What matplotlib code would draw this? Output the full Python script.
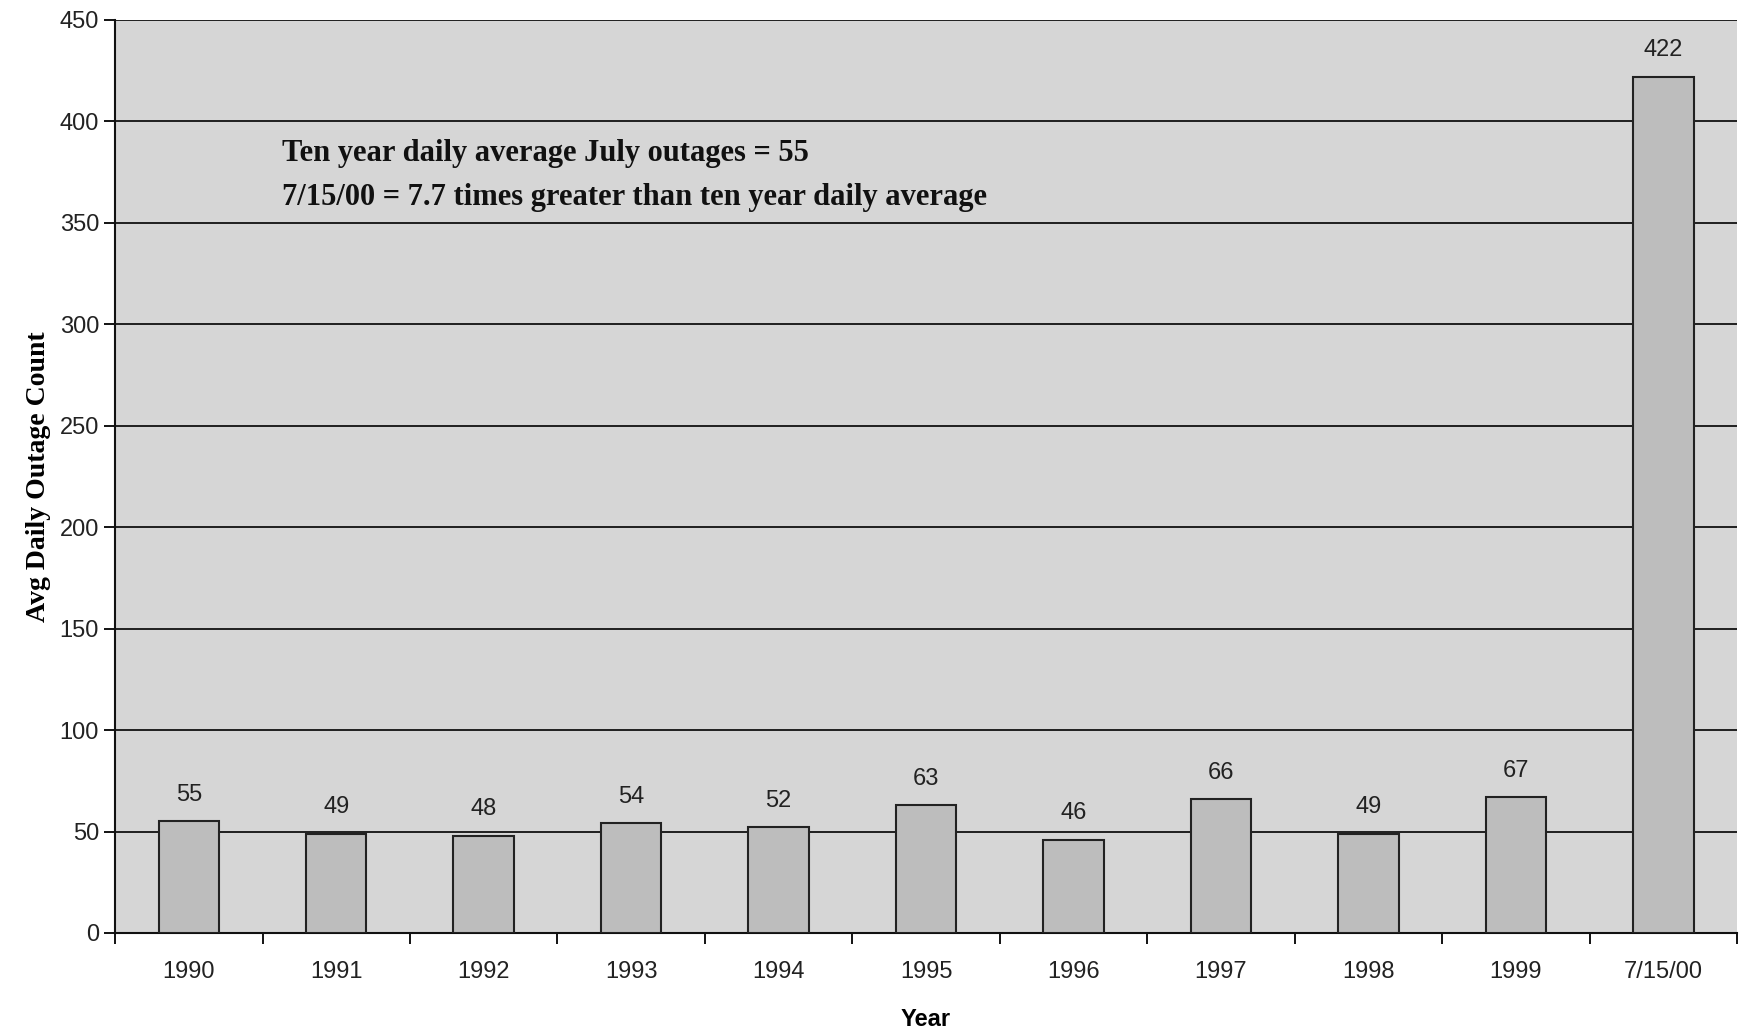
import matplotlib.pyplot as plt
import numpy as np

years = ['1990', '1991', '1992', '1993', '1994', '1995', '1996', '1997', '1998', '1999', '7/15/00']
outages = [55, 49, 48, 54, 52, 63, 46, 66, 49, 67, 422]

fig = plt.figure(figsize=(17.46, 10.34), dpi=100)
ax = fig.add_axes([0.0659, 0.0977, 0.929, 0.883])
ax.set_facecolor('#d6d6d6')

x = np.arange(len(years))
bars = ax.bar(x, outages, width=0.41, color='#bdbdbd', edgecolor='#222222', linewidth=1.5, zorder=3)

# data labels over the bars
for xi, v in zip(x, outages):
    ax.annotate(str(v), (xi, v), xytext=(0, 11), textcoords='offset points',
                ha='center', va='bottom', fontsize=17, family='Liberation Sans', color='#222222')

ax.set_xlim(-0.5, len(years) - 0.5)
ax.set_ylim(0, 450)
ax.set_yticks(range(0, 451, 50))
ax.yaxis.grid(True, color='#111111', linewidth=1.3, zorder=1)
ax.set_axisbelow(True)

ax.set_xticks(x)
ax.set_xticklabels(years, fontsize=17, family='Liberation Sans', color='#222222')
ax.set_xticks(np.arange(-0.5, len(years)), minor=True)
ax.tick_params(axis='x', which='major', length=0, pad=20)
ax.tick_params(axis='x', which='minor', length=8, width=1.3, direction='out')
ax.tick_params(axis='y', length=8, width=1.3, direction='out', labelsize=17, labelcolor='#222222')
for lab in ax.get_yticklabels():
    lab.set_family('Liberation Sans')

for side in ['left', 'bottom']:
    ax.spines[side].set_linewidth(1.5)
    ax.spines[side].set_color('#111111')
for side in ['top', 'right']:
    ax.spines[side].set_visible(False)

ax.set_xlabel('Year', fontsize=17, fontweight='bold', family='Liberation Sans', labelpad=18)
ax.set_ylabel('Avg Daily Outage Count', fontsize=20, fontweight='bold', family='Liberation Serif', labelpad=6)

ax.text(0.103, 0.854, 'Ten year daily average July outages = 55', transform=ax.transAxes,
        fontsize=22, fontweight='bold', family='Liberation Serif', color='#111111', va='center')
ax.text(0.103, 0.806, '7/15/00 = 7.7 times greater than ten year daily average', transform=ax.transAxes,
        fontsize=22, fontweight='bold', family='Liberation Serif', color='#111111', va='center')

plt.savefig('out.png', dpi=100)
